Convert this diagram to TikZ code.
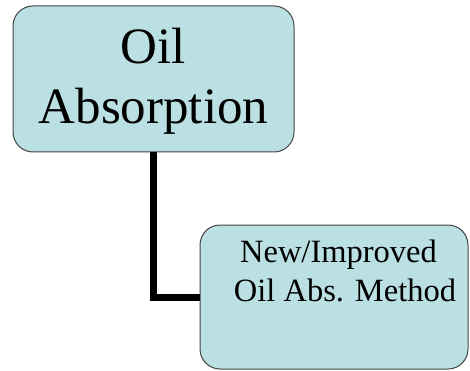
\documentclass[tikz,border=0pt]{standalone}
\usepackage{fontspec}
\newfontfamily\lserif{LiberationSerif}[Extension=.ttf,UprightFont=*-Regular]
\definecolor{boxfill}{HTML}{BAE0E3}
\definecolor{boxline}{HTML}{444444}
\begin{document}
\begin{tikzpicture}[x=1pt,y=-1pt,
  box/.style={draw=boxline,line width=1pt,fill=boxfill,rounded corners=20pt,inner sep=0pt},
  conn/.style={line width=7pt}]
\useasboundingbox (0,0) rectangle (470,371);
\node[box,minimum width=281pt,minimum height=146pt] (b1) at (153.5,79) {};
\node[box,minimum width=268pt,minimum height=144pt] (b2) at (334,297) {};
\draw[conn] (b1.south) |- (b2.west);
\node[align=center,font=\lserif\fontsize{51}{60}\selectfont,inner sep=0pt] (t1) at (153.5,81) {Oil\\Absorption};
\node[align=center,font=\lserif\fontsize{32.5}{39}\selectfont,inner sep=0pt,anchor=north] (t2) at (345,240) {New/Improved\hspace*{13pt}\\Oil Abs. Method};
\end{tikzpicture}
\end{document}
